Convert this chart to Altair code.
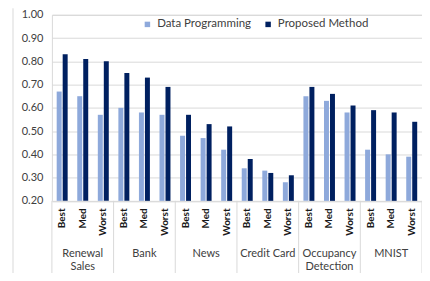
import altair as alt
import pandas as pd

datasets = ["Renewal Sales", "Bank", "News", "Credit Card", "Occupancy Detection", "MNIST"]
group_labels = ["Renewal\nSales", "Bank", "News", "Credit Card", "Occupancy\nDetection", "MNIST"]
levels = ["Best", "Med", "Worst"]
series = ["Data Programming", "Proposed Method"]
data_programming = [0.67, 0.65, 0.57, 0.60, 0.58, 0.57, 0.48, 0.47, 0.42,
                    0.34, 0.33, 0.28, 0.65, 0.63, 0.58, 0.42, 0.40, 0.39]
proposed_method = [0.83, 0.81, 0.80, 0.75, 0.73, 0.69, 0.57, 0.53, 0.52,
                   0.38, 0.32, 0.31, 0.69, 0.66, 0.61, 0.59, 0.58, 0.54]
y_ticks = [0.2, 0.3, 0.4, 0.5, 0.6, 0.7, 0.8, 0.9, 1.0]
y_base = 0.2

keys = [f"{d}|{l}" for d in datasets for l in levels]

rows = []
for i, k in enumerate(keys):
    rows.append({"key": k, "series": series[0], "value": data_programming[i]})
    rows.append({"key": k, "series": series[1], "value": proposed_method[i]})
bars_df = pd.DataFrame(rows)

W, H = 371, 186.5
GRID = "#d9d9d9"

x_enc = alt.X(
    "key:N", sort=keys,
    scale=alt.Scale(paddingInner=0, paddingOuter=0),
    axis=alt.Axis(title=None, labelExpr="split(datum.label, '|')[1]", labelAngle=270,
                  ticks=False, domain=False, grid=False, labelPadding=7,
                  labelFontSize=10, labelFontWeight="bold", labelColor="#1a1a1a"),
)

bars = alt.Chart(bars_df).mark_bar().encode(
    x=x_enc,
    xOffset=alt.XOffset("series:N", sort=series,
                        scale=alt.Scale(paddingInner=0.17, paddingOuter=0.8)),
    y=alt.Y("value:Q",
            scale=alt.Scale(domain=[0.2, 1.0], nice=False, zero=False),
            axis=alt.Axis(values=y_ticks, format=".2f", title=None, ticks=False,
                          domain=False, gridColor=GRID, labelPadding=9,
                          labelFontSize=11, labelColor="#404040")),
    y2=alt.datum(y_base),
    color=alt.Color("series:N", sort=series,
                    scale=alt.Scale(domain=series, range=["#8EA9DB", "#002060"]),
                    legend=alt.Legend(orient="none", legendX=90, legendY=3.5,
                                      direction="horizontal", title=None,
                                      symbolType="square", symbolSize=30,
                                      symbolStrokeWidth=0, labelFontSize=11.5,
                                      labelColor="#404040", columnPadding=11,
                                      labelOffset=4)),
)

sep_df = pd.DataFrame({"key": [f"{d}|Best" for d in datasets]})
end_df = pd.DataFrame({"key": [f"{datasets[-1]}|Worst"]})

seps = alt.Chart(sep_df).mark_rule(color=GRID).encode(
    x=alt.X("key:N", sort=keys, bandPosition=0),
    y=alt.value(H), y2=alt.value(259.5),
)
end_sep = alt.Chart(end_df).mark_rule(color=GRID).encode(
    x=alt.X("key:N", sort=keys, bandPosition=1),
    y=alt.value(H), y2=alt.value(259.5),
)

glab_df = pd.DataFrame({"key": [f"{d}|Med" for d in datasets], "label": group_labels})
glabels = alt.Chart(glab_df).mark_text(
    baseline="alphabetic", lineBreak="\n", lineHeight=13.5,
    fontSize=11, color="#404040"
).encode(
    x=alt.X("key:N", sort=keys),
    y=alt.value(242.5),
    text="label:N",
)

dummy = pd.DataFrame({"k": [0]})
border_left = alt.Chart(dummy).mark_rule(color=GRID).encode(
    x=alt.value(-39), y=alt.value(-6.5), y2=alt.value(262.5))
border_bottom = alt.Chart(dummy).mark_rule(color=GRID).encode(
    x=alt.value(-39), x2=alt.value(400), y=alt.value(262.5))

chart = alt.layer(bars, seps, end_sep, glabels, border_left, border_bottom).properties(
    width=W, height=H,
    autosize=alt.AutoSizeParams(type="none"),
    padding={"left": 44, "top": 6.5, "right": 0, "bottom": 72},
).configure(font="Lato").configure_view(stroke=GRID)

chart.save("out.html", embed_options={"renderer": "svg", "actions": False})
